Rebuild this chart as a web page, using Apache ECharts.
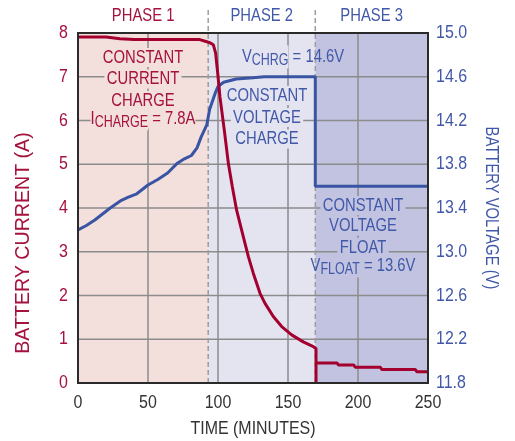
<!DOCTYPE html>
<html>
<head>
<meta charset="utf-8">
<script src="https://cdn.jsdelivr.net/npm/echarts@6/dist/echarts.min.js"></script>
<style>
  html, body { margin: 0; padding: 0; background: #ffffff; }
  #chart { width: 515px; height: 441px; }
</style>
</head>
<body>
<div id="chart"></div>
<script>
// Axis ticks
const timeTicks = [0, 50, 100, 150, 200, 250];
const currentTicks = [0, 1, 2, 3, 4, 5, 6, 7, 8];
const voltageTicks = [11.8, 12.2, 12.6, 13.0, 13.4, 13.8, 14.2, 14.6, 15.0];

// Charging phases (minutes)
const phaseNames = ['PHASE 1', 'PHASE 2', 'PHASE 3'];
const phaseBounds = [0, 93, 169.5, 250];

// Battery current, [minutes, amps]
const currentData = [
  [0, 7.91], [20, 7.91], [30, 7.87], [40, 7.85], [87, 7.85], [88, 7.81], [92, 7.80],
  [94, 7.78], [96.7, 7.73], [98.3, 7.54], [99.8, 7.08], [101.4, 6.54], [104.5, 5.78],
  [107.4, 5.02], [110.2, 4.49], [113.3, 3.95], [118.1, 3.34], [121.7, 2.89],
  [125.2, 2.51], [130, 2.05], [133.6, 1.82], [139.5, 1.52], [145.5, 1.29],
  [152.6, 1.10], [160.9, 0.94], [168.1, 0.83], [170, 0.79], [170, 0.02], [170, 0.46],
  [185, 0.46], [186, 0.41], [197, 0.41], [198, 0.36], [216, 0.36], [217, 0.31],
  [241, 0.31], [242, 0.26], [250, 0.26]
];

// Battery voltage, [minutes, volts]
const voltageData = [
  [0, 13.20], [6, 13.24], [12, 13.29], [18, 13.35], [23, 13.40], [31, 13.47],
  [36, 13.50], [42, 13.53], [50, 13.61], [57, 13.66], [64, 13.72], [71, 13.81],
  [76, 13.85], [81, 13.88], [85, 13.95], [88, 14.05], [92, 14.16], [94, 14.30],
  [98, 14.45], [100, 14.51], [104, 14.55], [113, 14.58], [125, 14.59], [133, 14.60],
  [169.5, 14.60], [169.5, 13.60], [250, 13.60]
];

const RED = '#a5123d';
const BLUE = '#4158a8';
const LINE_RED = '#a3002f';
const LINE_BLUE = '#3a54a4';
const GRID_GRAY = '#8c8c8c';
const PHASE_FILLS = ['#f3dfdc', '#e4e4f1', '#c1c3e1'];
const FONT = "'Liberation Sans', Arial, sans-serif";
const TEXT_SX = 0.78;   // condensed look for annotation text
const TICK_SX = 0.84;   // condensed look for tick labels

const chart = echarts.init(document.getElementById('chart'), null, { renderer: 'canvas' });

const yTop = currentTicks[currentTicks.length - 1];

// One filled band per charging phase, spanning the full current axis
const phaseSeries = phaseNames.map((n, i) => ({
  name: n, type: 'line', yAxisIndex: 0, z: 1, silent: true,
  symbol: 'none',
  data: [[phaseBounds[i], yTop], [phaseBounds[i + 1], yTop]],
  lineStyle: { width: 0 },
  areaStyle: { color: PHASE_FILLS[i], opacity: 1, origin: 'start' }
}));

const option = {
  animation: false,
  backgroundColor: '#ffffff',
  grid: { left: 78, right: 87, top: 33, bottom: 58 },
  xAxis: {
    type: 'value',
    min: timeTicks[0], max: timeTicks[timeTicks.length - 1], interval: timeTicks[1] - timeTicks[0],
    axisLine: { show: false }, axisTick: { show: false }, axisLabel: { show: false },
    splitLine: { show: false }
  },
  yAxis: [
    {
      type: 'value',
      min: currentTicks[0], max: yTop, interval: currentTicks[1] - currentTicks[0],
      axisLine: { show: false }, axisTick: { show: false }, axisLabel: { show: false },
      splitLine: { show: false }
    },
    {
      type: 'value', position: 'right',
      min: voltageTicks[0], max: voltageTicks[voltageTicks.length - 1], interval: 0.4,
      axisLine: { show: false }, axisTick: { show: false }, axisLabel: { show: false },
      splitLine: { show: false }
    }
  ],
  series: phaseSeries.concat([
    {
      name: 'voltage', type: 'line', yAxisIndex: 1, data: voltageData, z: 3,
      symbol: 'none', lineStyle: { color: LINE_BLUE, width: 3 }, itemStyle: { color: LINE_BLUE }
    },
    {
      name: 'current', type: 'line', yAxisIndex: 0, data: currentData, z: 4,
      symbol: 'none', lineStyle: { color: LINE_RED, width: 3 }, itemStyle: { color: LINE_RED }
    }
  ])
};

chart.setOption(option);

const gx = v => chart.convertToPixel({ xAxisIndex: 0 }, v);
const gyL = v => chart.convertToPixel({ yAxisIndex: 0 }, v);
const gyR = v => chart.convertToPixel({ yAxisIndex: 1 }, v);
const plotLeft = gx(timeTicks[0]);
const plotRight = gx(timeTicks[timeTicks.length - 1]);
const plotTop = gyL(yTop);
const plotBottom = gyL(currentTicks[0]);

function label(x, y, text, color, extra, sx) {
  return {
    type: 'text', x: x, y: y, z: 60, scaleX: sx || TEXT_SX,
    style: Object.assign({
      text: text, fill: color, fontSize: 19, fontFamily: FONT,
      align: 'center', verticalAlign: 'middle'
    }, extra || {})
  };
}

function subLine(x, y, main, sub, tail, color, bgs) {
  const base = { fontSize: 19, fontFamily: FONT, fill: color, lineHeight: 24 };
  const lower = { fontSize: 16, fontFamily: FONT, fill: color, padding: [7, 0, 0, 0] };
  return {
    type: 'text', x: x, y: y, z: 60, scaleX: TEXT_SX,
    style: {
      text: '{m|' + main + '}{s|' + sub + '}{t|' + tail + '}',
      align: 'center', verticalAlign: 'middle',
      rich: {
        m: Object.assign({}, base, bgs[0] ? { backgroundColor: bgs[0] } : {}),
        s: Object.assign({}, lower, bgs[1] ? { backgroundColor: bgs[1] } : {}),
        t: Object.assign({}, base, bgs[2] ? { backgroundColor: bgs[2] } : {})
      }
    }
  };
}

const graphics = [];

// Grid lines at the tick positions
timeTicks.slice(1, -1).forEach(t => {
  const px = gx(t);
  graphics.push({
    type: 'line', z: 2.2, silent: true,
    shape: { x1: px, y1: plotTop, x2: px, y2: plotBottom },
    style: { stroke: GRID_GRAY, lineWidth: 1.5 }
  });
});
currentTicks.slice(1, -1).forEach(v => {
  const py = gyL(v);
  graphics.push({
    type: 'line', z: 2.2, silent: true,
    shape: { x1: plotLeft, y1: py, x2: plotRight, y2: py },
    style: { stroke: GRID_GRAY, lineWidth: 1.5 }
  });
});

// Phase boundaries: dashed lines running from the header down through the plot
[phaseBounds[1], phaseBounds[2]].forEach(b => {
  const px = gx(b);
  graphics.push({
    type: 'line', z: 2.5, silent: true,
    shape: { x1: px, y1: 10, x2: px, y2: plotBottom },
    style: { stroke: '#9d9d9d', lineWidth: 1.5, lineDash: [5, 3] }
  });
});

// Plot frame
graphics.push({
  type: 'rect', z: 5, silent: true,
  shape: { x: plotLeft, y: plotTop, width: plotRight - plotLeft, height: plotBottom - plotTop },
  style: { fill: null, stroke: '#2a2a2a', lineWidth: 2 }
});

// Phase titles
phaseNames.forEach((n, i) => {
  const cx = (gx(phaseBounds[i]) + gx(phaseBounds[i + 1])) / 2;
  graphics.push(label(cx, 16, n, i === 0 ? RED : BLUE));
});

// Tick labels
timeTicks.forEach(t => graphics.push(label(gx(t), 403, String(t), '#333333', null, TICK_SX)));
currentTicks.forEach(v => graphics.push(label(68, gyL(v), String(v), RED, { align: 'right' }, TICK_SX)));
voltageTicks.forEach(v => graphics.push(label(436, gyR(v), v.toFixed(1), BLUE, { align: 'left' }, TICK_SX)));

// Phase 1 annotation
const p1 = { backgroundColor: PHASE_FILLS[0], padding: [0, 3] };
graphics.push(label(143, 57.5, 'CONSTANT', RED, p1));
graphics.push(label(143, 79, 'CURRENT', RED, p1));
graphics.push(label(143, 100.5, 'CHARGE', RED, p1));
graphics.push(subLine(143, 119, 'I', 'CHARGE', ' = 7.8A', RED, [PHASE_FILLS[0], PHASE_FILLS[0], PHASE_FILLS[0]]));

// Phase 2 annotation
const p2 = { backgroundColor: PHASE_FILLS[1], padding: [0, 3] };
graphics.push(subLine(293, 57, 'V', 'CHRG', ' = 14.6V', BLUE, [PHASE_FILLS[1], PHASE_FILLS[1], null]));
graphics.push(label(267, 95.5, 'CONSTANT', BLUE, p2));
graphics.push(label(267, 117.5, 'VOLTAGE', BLUE, p2));
graphics.push(label(267, 139, 'CHARGE', BLUE, p2));

// Phase 3 annotation
const p3 = { backgroundColor: PHASE_FILLS[2], padding: [0, 3] };
graphics.push(label(363, 205.5, 'CONSTANT', BLUE, p3));
graphics.push(label(363, 226, 'VOLTAGE', BLUE, p3));
graphics.push(label(363, 247.5, 'FLOAT', BLUE, p3));
graphics.push(subLine(363, 266, 'V', 'FLOAT', ' = 13.6V', BLUE, [null, PHASE_FILLS[2], PHASE_FILLS[2]]));

// Axis titles
graphics.push({
  type: 'text', x: 23, y: 243, rotation: Math.PI / 2, z: 60, scaleX: 0.98,
  style: { text: 'BATTERY CURRENT (A)', fill: RED, fontSize: 20, fontFamily: FONT, align: 'center', verticalAlign: 'middle' }
});
graphics.push({
  type: 'text', x: 491, y: 208, rotation: -Math.PI / 2, z: 60, scaleX: 0.78,
  style: { text: 'BATTERY VOLTAGE (V)', fill: BLUE, fontSize: 19, fontFamily: FONT, align: 'center', verticalAlign: 'middle' }
});
graphics.push(label(253, 429, 'TIME (MINUTES)', '#333333', null, TICK_SX));

chart.setOption({ graphic: graphics });
</script>
</body>
</html>
